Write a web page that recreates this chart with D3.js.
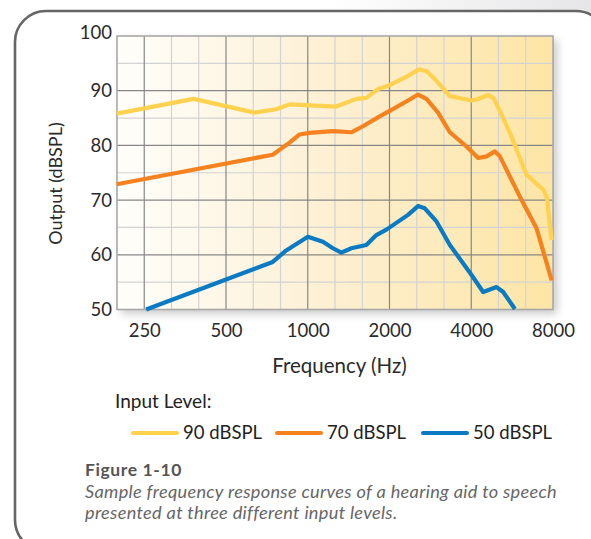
<!DOCTYPE html>
<html><head><meta charset="utf-8">
<script src="https://cdn.jsdelivr.net/npm/d3@7"></script>
<style>
html,body{margin:0;padding:0;background:#fff;}
svg{display:block;font-family:Lato, "Open Sans", sans-serif;}
</style>
</head><body><div id="chart"></div>
<script>
// ---- data ----
const xTicks = [250, 500, 1000, 2000, 4000, 8000];
const yTicks = [50, 60, 70, 80, 90, 100];
const yMinorTicks = [55, 65, 75, 85, 95];
const seriesNames = ["90 dBSPL", "70 dBSPL", "50 dBSPL"];
const seriesColors = ["#fed24f", "#f5821f", "#0a7bc2"];

const freq90 = [198, 380, 636, 765, 857, 933, 1274, 1510, 1643, 1814, 2003, 2340, 2569, 2736, 2979, 3336, 4011, 4185, 4617, 4847, 5552, 6398, 7367, 7583, 7912];
const db90   = [85.8, 88.5, 86.0, 86.6, 87.5, 87.4, 87.1, 88.5, 88.7, 90.3, 91.0, 92.7, 93.9, 93.6, 91.8, 89.0, 88.2, 88.4, 89.2, 88.6, 82.3, 74.6, 71.9, 70.6, 62.7];

const freq70 = [198, 743, 857, 933, 1015, 1238, 1447, 1597, 1840, 2003, 2375, 2547, 2736, 3019, 3336, 3842, 4242, 4556, 4888, 5099, 6131, 6964, 7912];
const db70   = [72.9, 78.3, 80.5, 82.0, 82.3, 82.6, 82.4, 83.5, 85.3, 86.3, 88.4, 89.3, 88.5, 86.0, 82.4, 79.8, 77.7, 78.0, 78.9, 78.0, 70.0, 64.8, 55.3];

const freq50 = [254, 743, 833, 1001, 1137, 1238, 1329, 1447, 1643, 1789, 1948, 2340, 2547, 2697, 2979, 3336, 4011, 4425, 4959, 5245, 5792];
const db50   = [50.0, 58.7, 60.8, 63.3, 62.4, 61.2, 60.4, 61.2, 61.8, 63.6, 64.6, 67.3, 68.9, 68.5, 66.1, 61.8, 56.3, 53.2, 54.1, 53.2, 50.1];

const seriesFreqs = [freq90, freq70, freq50];
const seriesDbs = [db90, db70, db50];

// ---- layout ----
const W = 591, H = 539;
const plot = {left: 117, right: 553, top: 36, bottom: 309.5};

const svg = d3.select("#chart").append("svg").attr("width", W).attr("height", H);
const defs = svg.append("defs");

const bgGrad = defs.append("linearGradient").attr("id", "pageBg").attr("x1", "0").attr("x2", "1").attr("y1", "0").attr("y2", "0");
bgGrad.append("stop").attr("offset", "0.55").attr("stop-color", "#ffffff");
bgGrad.append("stop").attr("offset", "1").attr("stop-color", "#e6e6e8");

const plotGrad = defs.append("linearGradient").attr("id", "plotBg").attr("x1", "0").attr("x2", "1").attr("y1", "0").attr("y2", "0");
plotGrad.append("stop").attr("offset", "0").attr("stop-color", "#fffefb");
plotGrad.append("stop").attr("offset", "0.45").attr("stop-color", "#fdf1d6");
plotGrad.append("stop").attr("offset", "1").attr("stop-color", "#fde5a4");

const sh = defs.append("filter").attr("id", "shadow").attr("x", "-5%").attr("y", "-5%").attr("width", "115%").attr("height", "120%");
sh.append("feDropShadow").attr("dx", 4).attr("dy", 4).attr("stdDeviation", 4)
  .attr("flood-color", "#000").attr("flood-opacity", 0.22);

svg.append("rect").attr("x", 0).attr("y", 0).attr("width", W).attr("height", H).attr("fill", "url(#pageBg)");

// outer rounded frame
svg.append("rect").attr("x", 15).attr("y", 11).attr("width", 592).attr("height", 540)
  .attr("rx", 31).attr("ry", 31)
  .attr("fill", "#fff").attr("stroke", "#666666").attr("stroke-width", 2.6);

// ---- scales ----
const x = d3.scaleLog().domain([250 / Math.cbrt(2), 8000]).range([plot.left, plot.right]);
const y = d3.scaleLinear().domain([50, 100]).range([plot.bottom, plot.top]);

// plot background with shadow
svg.append("rect").attr("x", plot.left).attr("y", plot.top)
  .attr("width", plot.right - plot.left).attr("height", plot.bottom - plot.top)
  .attr("fill", "url(#plotBg)").attr("filter", "url(#shadow)");

const grid = svg.append("g");
// minor vertical (third-octave) gridlines
const thirdOct = d3.range(-1, 16).map(k => 250 * Math.pow(2, k / 3)).filter(f => f > 199 && f < 7900);
const minorX = thirdOct.filter(f => !xTicks.some(t => Math.abs(Math.log2(f / t)) < 0.01));
grid.selectAll("line.mx").data(minorX).join("line")
  .attr("x1", d => x(d)).attr("x2", d => x(d)).attr("y1", plot.top).attr("y2", plot.bottom)
  .attr("stroke", "#d3d3d3").attr("stroke-width", 1.2);
grid.selectAll("line.my").data(yMinorTicks).join("line")
  .attr("x1", plot.left).attr("x2", plot.right).attr("y1", d => y(d)).attr("y2", d => y(d))
  .attr("stroke", "#d3d3d3").attr("stroke-width", 1.2);
// major gridlines
grid.selectAll("line.Mx").data(xTicks.filter(t => t < 8000)).join("line")
  .attr("x1", d => x(d)).attr("x2", d => x(d)).attr("y1", plot.top).attr("y2", plot.bottom)
  .attr("stroke", "#878787").attr("stroke-width", 1.2);
grid.selectAll("line.My").data(yTicks.filter(t => t > 50 && t < 100)).join("line")
  .attr("x1", plot.left).attr("x2", plot.right).attr("y1", d => y(d)).attr("y2", d => y(d))
  .attr("stroke", "#878787").attr("stroke-width", 1.2);

// plot border
svg.append("rect").attr("x", plot.left).attr("y", plot.top)
  .attr("width", plot.right - plot.left).attr("height", plot.bottom - plot.top)
  .attr("fill", "none").attr("stroke", "#a9a9a9").attr("stroke-width", 1.6);

// ---- axes (text only) ----
const xAxis = d3.axisBottom(x).tickValues(xTicks).tickFormat(d3.format("d")).tickSize(0).tickPadding(14);
const gx = svg.append("g").attr("transform", `translate(0,${plot.bottom})`).call(xAxis);
gx.select(".domain").remove();
gx.selectAll("text").attr("font-family", "Lato, sans-serif").attr("font-size", 18.5).attr("fill", "#2a2a2a");

const yAxis = d3.axisLeft(y).tickValues(yTicks).tickFormat(d3.format("d")).tickSize(0).tickPadding(5);
const gy = svg.append("g").attr("transform", `translate(${plot.left},0)`).call(yAxis);
gy.select(".domain").remove();
gy.selectAll("text").attr("font-family", "Lato, sans-serif").attr("font-size", 18.5).attr("fill", "#2a2a2a")
  .attr("dy", d => d === 100 ? "0.12em" : "0.32em");

svg.append("text").attr("x", 339.5).attr("y", 373).attr("text-anchor", "middle")
  .attr("font-size", 20.5).attr("fill", "#2a2a2a").text("Frequency (Hz)");
svg.append("text").attr("transform", "translate(62,183.5) rotate(-90)").attr("text-anchor", "middle")
  .attr("font-size", 18).attr("fill", "#2a2a2a").text("Output (dBSPL)");

// ---- series ----
const line = d3.line().x(d => x(d[0])).y(d => y(d[1])).curve(d3.curveLinear);
const seriesData = seriesNames.map((n, i) => seriesFreqs[i].map((f, j) => [f, seriesDbs[i][j]]));
svg.append("g").selectAll("path").data(seriesData).join("path")
  .attr("d", line).attr("fill", "none")
  .attr("stroke", (d, i) => seriesColors[i]).attr("stroke-width", 4.2)
  .attr("stroke-linejoin", "round").attr("stroke-linecap", "butt");

// ---- legend ----
svg.append("text").attr("x", 115).attr("y", 408).attr("font-size", 19).attr("fill", "#222").text("Input Level:");
const legX = [133, 277, 423];
const lg = svg.append("g").selectAll("g").data(seriesNames).join("g")
  .attr("transform", (d, i) => `translate(${legX[i]},433)`);
lg.append("line").attr("x1", 0).attr("x2", 44).attr("y1", 0).attr("y2", 0)
  .attr("stroke", (d, i) => seriesColors[i]).attr("stroke-width", 4).attr("stroke-linecap", "round");
lg.append("text").attr("x", 50).attr("y", 0).attr("dy", "0.35em").attr("font-size", 18.5).attr("fill", "#222").text(d => d);

// ---- caption ----
svg.append("text").attr("x", 85).attr("y", 476).attr("font-size", 17.5).attr("font-weight", "bold")
  .attr("letter-spacing", 0.6).attr("fill", "#555").text("Figure 1-10");
const cap = svg.append("text").attr("font-size", 18.2).attr("font-style", "italic")
  .attr("letter-spacing", 0.3).attr("fill", "#666");
cap.append("tspan").attr("x", 85).attr("y", 498).text("Sample frequency response curves of a hearing aid to speech");
cap.append("tspan").attr("x", 85).attr("y", 519).text("presented at three different input levels.");
</script>
</body></html>
